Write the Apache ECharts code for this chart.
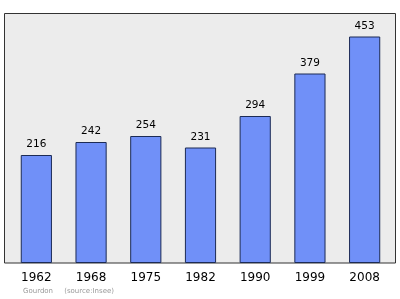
<!DOCTYPE html>
<html><head><meta charset="utf-8">
<script src="https://cdn.jsdelivr.net/npm/echarts@6/dist/echarts.min.js"></script>
<style>html,body{margin:0;padding:0;background:#fff}#c{width:400px;height:299px}</style>
</head><body><div id="c"></div>
<script>
var years = ['1962','1968','1975','1982','1990','1999','2008'];
var population = [216,242,254,231,294,379,453];
var footerPlace = 'Gourdon';
var footerSource = '(source:Insee)';

var chart = echarts.init(document.getElementById('c'), null, {renderer:'canvas'});
chart.setOption({
  animation:false,
  backgroundColor:'#ffffff',
  graphic:[
    {type:'rect', z:-10, shape:{x:4.5,y:13.5,width:391,height:249.5},
     style:{fill:'#ececec', stroke:'#333333', lineWidth:1}},
    {type:'text', left:23, top:288, style:{text:footerPlace+'     '+footerSource, fill:'#999999', font:'7px "DejaVu Sans"'}}
  ],
  grid:{left:9, right:8, top:13, bottom:36},
  xAxis:{type:'category', data:years,
    axisLine:{show:false}, axisTick:{show:false},
    axisLabel:{color:'#000', fontSize:12, fontFamily:'DejaVu Sans', margin:9}},
  yAxis:{type:'value', min:0, max:500, show:false, splitLine:{show:false}},
  series:[{type:'bar', data:population, barWidth:'57%',
    itemStyle:{color:'#7090f8', borderColor:'#1c2b55', borderWidth:1},
    label:{show:true, position:'top', distance:5, color:'#000', fontSize:10.5, fontFamily:'DejaVu Sans'}}]
});
</script></body></html>
